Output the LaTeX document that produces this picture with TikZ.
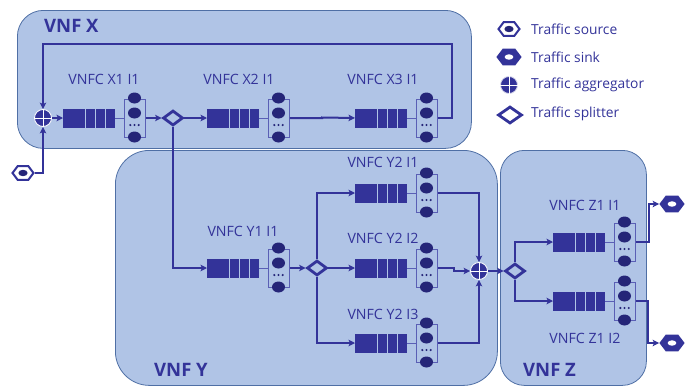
\documentclass[tikz,border=0pt]{standalone}
\usepackage{fontspec}
\setmainfont{Open Sans}
\usetikzlibrary{arrows.meta,shapes.geometric,calc}
\definecolor{blockfill}{HTML}{B0C4E6}
\definecolor{blockline}{HTML}{4F6FA5}
\definecolor{ink}{HTML}{333399}
\definecolor{dark}{HTML}{252578}
\definecolor{rackline}{HTML}{5A5FB5}
\tikzset{
  block/.style={draw=blockline,fill=blockfill,line width=0.8pt,inner sep=0pt},
  blockname/.style={text=ink,font=\fontsize{18.5}{20}\selectfont\bfseries,inner sep=0pt},
  unitname/.style={text=ink,font=\fontsize{14.2}{16}\selectfont,inner sep=0pt},
  legendtext/.style={text=ink,font=\fontsize{13.8}{16}\selectfont,inner sep=0pt,anchor=west},
  queuebox/.style={fill=ink,draw=none,minimum width=52pt,minimum height=19pt,inner sep=0pt},
  rackbox/.style={draw=rackline,line width=0.8pt,minimum width=21pt,minimum height=38pt,inner sep=0pt},
  slot/.style={ellipse,fill=dark,draw=none,minimum width=13pt,minimum height=11pt,inner sep=0pt},
  link/.style={draw=ink,line width=2pt},
  flow/.style={link,-{Stealth[length=6.5pt,width=6.5pt,inset=1.5pt]}},
  splitter/.style={diamond,aspect=1.35,draw=ink,line width=2.8pt,fill=blockfill,minimum width=20pt,minimum height=15pt,inner sep=0pt},
  merger/.style={circle,fill=ink,draw=white,line width=0.8pt,minimum size=17pt,inner sep=0pt},
  source/.style={regular polygon,regular polygon sides=6,draw=ink,line width=2pt,fill=white,minimum width=20pt,inner sep=0pt,xscale=1.05,yscale=0.8},
  sink/.style={regular polygon,regular polygon sides=6,fill=ink,draw=none,minimum width=24pt,inner sep=0pt,xscale=1.05,yscale=0.8},
}
\newcommand{\mergecross}[1]{%
  \draw[white,line width=0.7pt] (#1.north) -- (#1.south) (#1.west) -- (#1.east);}
\newcommand{\srcdot}[1]{\fill[dark] (#1) ellipse (4.6pt and 3.2pt);}
\newcommand{\sinkhole}[1]{\fill[white] (#1) ellipse (4.4pt and 2.7pt);}
% #1 id, #2 queue left x, #3 centre y
\newcommand{\vnfcunit}[3]{%
  \node[queuebox,anchor=west] (q#1) at (#2,#3) {};
  \foreach \dx in {22,32,42} \draw[blockfill,line width=0.8pt] ($(#2,#3)+(\dx,-9.5)$) -- ($(#2,#3)+(\dx,9.5)$);
  \node[rackbox,anchor=west] (r#1) at (#2+61,#3) {};
  \draw[rackline,line width=0.8pt] (q#1.east) -- (r#1.west);
  \node[slot] (a#1) at (#2+71.5,#3-20) {};
  \node[slot] (b#1) at (#2+71.5,#3-5) {};
  \node[slot] (c#1) at (#2+71.5,#3+19) {};
  \foreach \dx in {-4.2,0,4.2} \fill[dark] (#2+71.5+\dx,#3+7) circle (1.2pt);
}
\begin{document}
\begin{tikzpicture}[x=1pt,y=-1pt]
\useasboundingbox (0,0) rectangle (686,386);
% blocks
\node[block,rounded corners=26pt,minimum width=454pt,minimum height=138pt,anchor=north west] (blockX) at (17,10) {};
\node[block,rounded corners=34pt,minimum width=382pt,minimum height=235pt,anchor=north west] (blockY) at (115,150) {};
\node[block,rounded corners=24pt,minimum width=146pt,minimum height=235pt,anchor=north west] (blockZ) at (500,150) {};
\node[blockname,anchor=west] (nameX) at (44,26) {VNF X};
\node[blockname,anchor=west] (nameY) at (154,370) {VNF Y};
\node[blockname,anchor=west] (nameZ) at (523,370) {VNF Z};
% units
\vnfcunit{XA}{63}{118}
\vnfcunit{XB}{207}{118}
\vnfcunit{XC}{355}{118}
\vnfcunit{YA}{207}{268}
\vnfcunit{YB}{355}{193}
\vnfcunit{YC}{355}{268}
\vnfcunit{YD}{355}{343}
\vnfcunit{ZA}{553}{242}
\vnfcunit{ZB}{553}{301}
\node[unitname] (lXA) at (104,79) {VNFC X1 I1};
\node[unitname] (lXB) at (239,79) {VNFC X2 I1};
\node[unitname] (lXC) at (383,79) {VNFC X3 I1};
\node[unitname] (lYA) at (243,231) {VNFC Y1 I1};
\node[unitname] (lYB) at (383,162) {VNFC Y2 I1};
\node[unitname] (lYC) at (383,238) {VNFC Y2 I2};
\node[unitname] (lYD) at (383,314) {VNFC Y2 I3};
\node[unitname] (lZA) at (585,205) {VNFC Z1 I1};
\node[unitname] (lZB) at (585,338) {VNFC Z1 I2};
% routing elements
\node[merger] (mX) at (43,118) {};
\node[merger] (mY) at (479,271) {};
\node[splitter] (sX) at (173,118) {};
\node[splitter] (sY) at (317,268) {};
\node[splitter] (sZ) at (515,271) {};
\node[source] (src) at (23,173) {};
\srcdot{src}
\node[sink] (outA) at (672,204) {};
\sinkhole{outA}
\node[sink] (outB) at (672,343) {};
\sinkhole{outB}
% connectors
\draw[flow] (src.east) -| (mX.south);
\draw[flow] (rXC.east) -- (452,118) -- (452,44) -- (43,44) -- (mX.north);
\draw[flow] (mX.east) -- (qXA.west);
\draw[flow] (rXA.east) -- (sX.west);
\draw[flow] (sX.east) -- (qXB.west);
\draw[flow] (rXB.east) -- (322,118) -- (322,117.5) -- (qXC.west);
\draw[flow] (sX.south) |- (qYA.west);
\draw[flow] (rYA.east) -- (sY.west);
\draw[flow] (sY.north) |- (qYB.west);
\draw[flow] (sY.east) -- (qYC.west);
\draw[flow] (sY.south) |- (qYD.west);
\draw[flow] (rYB.east) -| (mY.north);
\draw[flow] (rYC.east) -- (453.5,268) -- (453.5,271) -- (mY.west);
\draw[flow] (rYD.east) -| (mY.south);
\draw[flow] (mY.east) -- (sZ.west);
\draw[flow] (sZ.north) |- (qZA.west);
\draw[flow] (sZ.south) |- (qZB.west);
\draw[flow] (rZA.east) -- (649,242) |- (outA.west);
\draw[flow] (rZB.east) -- (648,301) |- (outB.west);
\mergecross{mX}
\mergecross{mY}
% legend
\node[source] (lgA) at (509,29) {};
\srcdot{lgA}
\node[sink] (lgB) at (509,57) {};
\sinkhole{lgB}
\node[merger,draw=white!80!ink] (lgC) at (509,85) {};
\mergecross{lgC}
\node[splitter,fill=white,minimum width=24pt,minimum height=17pt] (lgD) at (510,115) {};
\node[legendtext] (tA) at (531,29) {Traffic source};
\node[legendtext] (tB) at (531,57) {Traffic sink};
\node[legendtext] (tC) at (531,85) {Traffic aggregator};
\node[legendtext] (tD) at (531,114) {Traffic splitter};
\end{tikzpicture}
\end{document}
